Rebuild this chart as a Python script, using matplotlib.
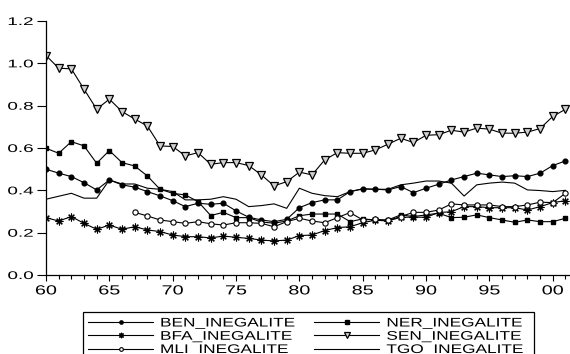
import matplotlib
matplotlib.use("Agg")
import matplotlib.pyplot as plt
from matplotlib import patheffects
from matplotlib.transforms import Affine2D
from matplotlib.patches import Rectangle
import numpy as np

years = np.arange(1960, 2002)
nan = np.nan

ben = [0.500, 0.481, 0.465, 0.436, 0.402, 0.449, 0.426, 0.415, 0.394, 0.374,
       0.351, 0.323, 0.339, 0.334, 0.339, 0.303, 0.273, 0.260, 0.252, 0.263,
       0.318, 0.342, 0.355, 0.355, 0.394, 0.407, 0.405, 0.402, 0.418, 0.389,
       0.410, 0.429, 0.449, 0.465, 0.481, 0.473, 0.465, 0.469, 0.465, 0.481,
       0.517, 0.539]
ner = [0.599, 0.575, 0.630, 0.610, 0.528, 0.588, 0.531, 0.515, 0.468, 0.405,
       0.386, 0.378, 0.347, 0.281, 0.296, 0.271, 0.271, 0.250, 0.245, 0.255,
       0.280, 0.288, 0.288, 0.288, 0.252, 0.265, 0.260, 0.260, 0.284, 0.276,
       0.284, 0.292, 0.271, 0.273, 0.284, 0.271, 0.260, 0.249, 0.260, 0.252,
       0.252, 0.268]
bfa = [0.271, 0.255, 0.276, 0.244, 0.216, 0.236, 0.216, 0.228, 0.213, 0.205,
       0.189, 0.181, 0.181, 0.175, 0.184, 0.178, 0.173, 0.165, 0.161, 0.165,
       0.186, 0.189, 0.210, 0.224, 0.228, 0.247, 0.259, 0.255, 0.273, 0.273,
       0.273, 0.295, 0.299, 0.323, 0.323, 0.318, 0.318, 0.318, 0.307, 0.323,
       0.342, 0.351]
sen = [1.037, 0.977, 0.974, 0.878, 0.783, 0.831, 0.772, 0.737, 0.704, 0.610,
       0.607, 0.563, 0.578, 0.523, 0.531, 0.531, 0.517, 0.473, 0.421, 0.441,
       0.486, 0.473, 0.544, 0.578, 0.575, 0.575, 0.591, 0.618, 0.646, 0.626,
       0.660, 0.663, 0.684, 0.675, 0.694, 0.689, 0.670, 0.670, 0.675, 0.692,
       0.749, 0.783]
mli = [nan, nan, nan, nan, nan, nan, nan, 0.296, 0.279, 0.260,
       0.252, 0.244, 0.252, 0.242, 0.236, 0.247, 0.247, 0.244, 0.228, 0.252,
       0.268, 0.255, 0.247, 0.271, 0.295, 0.260, 0.263, 0.258, 0.276, 0.296,
       0.296, 0.307, 0.336, 0.331, 0.331, 0.331, 0.323, 0.323, 0.331, 0.344,
       0.342, 0.386]
tgo = [0.358, 0.372, 0.386, 0.363, 0.363, 0.449, 0.430, 0.430, 0.410, 0.405,
       0.394, 0.355, 0.355, 0.358, 0.370, 0.358, 0.323, 0.328, 0.336, 0.315,
       0.410, 0.386, 0.375, 0.370, 0.394, 0.407, 0.405, 0.405, 0.426, 0.434,
       0.444, 0.444, 0.434, 0.373, 0.426, 0.434, 0.439, 0.434, 0.402, 0.399,
       0.394, 0.400]

xticks = [1960, 1965, 1970, 1975, 1980, 1985, 1990, 1995, 2000]
xlabels = ["60", "65", "70", "75", "80", "85", "90", "95", "00"]
yticks = [0.0, 0.2, 0.4, 0.6, 0.8, 1.0, 1.2]


class Stretch(patheffects.AbstractPathEffect):
    """Widen glyphs horizontally about the left, centre or right of the text."""

    def __init__(self, sx, about="center"):
        super().__init__()
        self.sx = sx
        self.about = about

    def draw_path(self, renderer, gc, tpath, affine, rgbFace=None):
        ext = tpath.get_extents()
        cx = {"left": 0.0, "center": (ext.x0 + ext.x1) / 2, "right": ext.x1}[self.about]
        aff = Affine2D().translate(-cx, 0).scale(self.sx, 1).translate(cx, 0) + affine
        renderer.draw_path(gc, tpath, aff, rgbFace)


plt.rcParams["font.family"] = "Liberation Sans"

fig = plt.figure(figsize=(5.7, 3.54), dpi=100)
ax = fig.add_axes([46 / 570, 1 - 275 / 354, 524 / 570, 254 / 354])

lw = 0.8
ax.plot(years, ben, color="black", lw=lw, marker="o", ms=3.4, mfc="black", mec="black", label="BEN_INEGALITE")
ax.plot(years, ner, color="black", lw=lw, marker="s", ms=3.4, mfc="black", mec="black", label="NER_INEGALITE")
ax.plot(years, bfa, color="black", lw=lw, marker=(8, 2, 0), ms=5.6, mew=0.8, mec="black", label="BFA_INEGALITE")
ax.plot(years, sen, color="black", lw=lw, marker="v", ms=6, mfc="#cfcfcf", mec="black", mew=0.9, label="SEN_INEGALITE")
ax.plot(years, mli, color="black", lw=lw, marker="o", ms=3.8, mfc="white", mec="black", mew=0.8, label="MLI_INEGALITE")
ax.plot(years, tgo, color="black", lw=lw, label="TGO_INEGALITE")

ax.set_xlim(1960, 2001.36)
ax.set_ylim(0, 1.2)
ax.set_xticks(xticks)
ax.set_xticklabels(xlabels)
ax.set_xticks(years, minor=True)
ax.set_yticks(yticks)
ax.set_yticklabels([f"{v:.1f}" for v in yticks])

for side in ("top", "right"):
    ax.spines[side].set_visible(False)
for side in ("left", "bottom"):
    ax.spines[side].set_linewidth(0.9)

ax.tick_params(axis="x", which="major", length=4.5, width=0.8, pad=3, labelsize=9.5, direction="out")
ax.tick_params(axis="x", which="minor", length=2.6, width=0.8, direction="out")
ax.tick_params(axis="y", which="major", length=6.5, width=0.8, pad=2.7, labelsize=8, direction="out")

for lbl in ax.get_xticklabels():
    lbl.set_path_effects([Stretch(1.5, "center")])
for lbl in ax.get_yticklabels():
    lbl.set_path_effects([Stretch(1.7, "right")])

# legend: row order BEN/NER, BFA/SEN, MLI/TGO
h, l = ax.get_legend_handles_labels()
order = [0, 2, 4, 1, 3, 5]
leg = ax.legend([h[i] for i in order], [l[i] for i in order], ncol=2,
                loc="upper left", bbox_to_anchor=(88 / 570, 1 - 317.5 / 354),
                bbox_transform=fig.transFigure, frameon=False, fontsize=9,
                borderpad=0, borderaxespad=0, handlelength=5.2, handletextpad=0.56,
                columnspacing=4.56, labelspacing=0.1, numpoints=1, markerscale=0.7)
for t in leg.get_texts():
    t.set_path_effects([Stretch(1.38, "left")])

fig.add_artist(Rectangle((83 / 570, -0.1), (534 - 83) / 570, 0.1 + 1 - 312 / 354,
                         transform=fig.transFigure, fill=False, lw=0.9,
                         edgecolor="black", clip_on=False))

fig.savefig("out.png", dpi=100)
